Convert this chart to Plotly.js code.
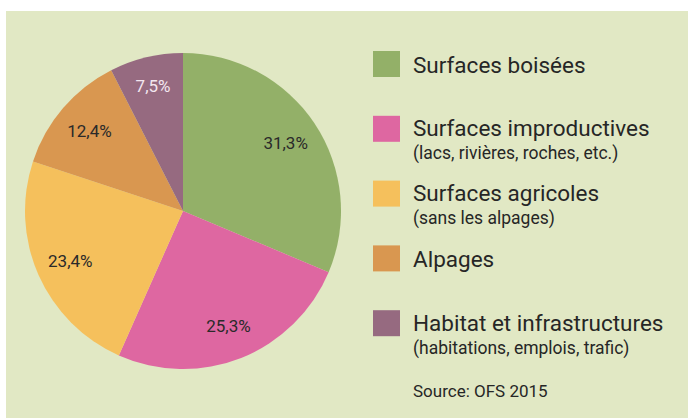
<!DOCTYPE html>
<html>
<head>
<meta charset="utf-8">
<script src="https://cdn.plot.ly/plotly-3.0.1.min.js"></script>
<style>html,body{margin:0;padding:0;background:#fff;}#chart{width:688px;height:418px;}</style>
</head>
<body>
<div id="chart"></div>
<script>
const categories = ['Surfaces boisées', 'Surfaces improductives', 'Surfaces agricoles', 'Alpages', 'Habitat et infrastructures'];
const subtitles = ['', '(lacs, rivières, roches, etc.)', '(sans les alpages)', '', '(habitations, emplois, trafic)'];
const values = [31.3, 25.3, 23.4, 12.4, 7.5];
const valueLabels = ['31,3%', '25,3%', '23,4%', '12,4%', '7,5%'];
const colors = ['#93b068', '#de67a1', '#f5c05c', '#d99750', '#966a80'];
const labelColors = ['#2a2a2a', '#2a2a2a', '#2a2a2a', '#2a2a2a', '#f3e6ef'];
const sourceText = 'Source: OFS 2015';

const W = 688, H = 418;
const FONT = 'Roboto, "DejaVu Sans", sans-serif';
const px = x => x / W;
const py = y => 1 - y / H;
const pieDomain = { x: [px(25), px(341)], y: [py(369), py(53)] };

// filled slices
const slices = {
  type: 'pie',
  labels: categories,
  values: values,
  textinfo: 'none',
  sort: false,
  direction: 'clockwise',
  rotation: 0,
  marker: { colors: colors, line: { width: 0 } },
  hoverinfo: 'label+percent',
  showlegend: false,
  domain: pieDomain
};
// transparent ring carrying the percentage labels (places them toward the rim)
const labelRing = {
  type: 'pie',
  labels: categories,
  values: values,
  text: valueLabels,
  textinfo: 'text',
  textposition: 'inside',
  insidetextorientation: 'horizontal',
  sort: false,
  direction: 'clockwise',
  rotation: 0,
  hole: 0.56,
  marker: { colors: colors.map(() => 'rgba(0,0,0,0)'), line: { width: 0 } },
  insidetextfont: { family: FONT, size: 17, color: labelColors },
  hoverinfo: 'skip',
  showlegend: false,
  domain: pieDomain
};

const shapes = [{
  type: 'rect', xref: 'paper', yref: 'paper',
  x0: px(6), x1: 1, y0: 0, y1: py(11),
  fillcolor: '#e1e8c4', line: { width: 0 }, layer: 'below'
}];
const annotations = [];
const step = 64.8, firstY = 64;
categories.forEach((c, i) => {
  const yc = firstY + i * step;
  shapes.push({
    type: 'rect', xref: 'paper', yref: 'paper',
    x0: px(373), x1: px(400), y0: py(yc + 13), y1: py(yc - 13),
    fillcolor: colors[i], line: { width: 0 }
  });
  if (subtitles[i]) {
    annotations.push({
      xref: 'paper', yref: 'paper', x: px(411), y: py(yc + 11),
      xanchor: 'left', yanchor: 'middle', align: 'left', showarrow: false,
      text: '<span style="font-size:22.5px">' + c + '</span><br>' + subtitles[i],
      font: { family: FONT, size: 17.5, color: '#262626' }
    });
  } else {
    annotations.push({
      xref: 'paper', yref: 'paper', x: px(411), y: py(yc + 1),
      xanchor: 'left', yanchor: 'middle', showarrow: false,
      text: c, font: { family: FONT, size: 22.5, color: '#262626' }
    });
  }
});
annotations.push({
  xref: 'paper', yref: 'paper', x: px(411), y: py(391),
  xanchor: 'left', yanchor: 'middle', showarrow: false,
  text: sourceText, font: { family: FONT, size: 17, color: '#262626' }
});

const layout = {
  width: W, height: H,
  margin: { l: 0, r: 0, t: 0, b: 0 },
  paper_bgcolor: '#ffffff',
  plot_bgcolor: 'rgba(0,0,0,0)',
  showlegend: false,
  shapes: shapes,
  annotations: annotations,
  font: { family: FONT }
};

Plotly.newPlot('chart', [slices, labelRing], layout, { displayModeBar: false, staticPlot: true });
</script>
</body>
</html>
